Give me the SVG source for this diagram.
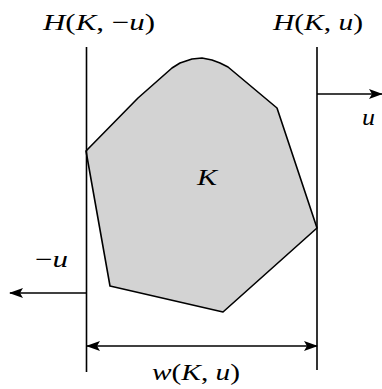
<svg xmlns="http://www.w3.org/2000/svg" width="382" height="389" viewBox="0 0 382 389">
<defs>
<marker id="ah" viewBox="0 0 14 10" refX="13" refY="5" markerWidth="14" markerHeight="10" markerUnits="userSpaceOnUse" orient="auto-start-reverse">
<path d="M0,0 L14,5 L0,10 L3,5 Z" fill="#000"/>
</marker>
</defs>
<rect width="382" height="389" fill="#fff"/>
<g font-family="'Liberation Serif', serif" font-size="23" fill="#000">
<g id="K">
<polygon points="86,151 138,98 172,68 180,63 192,59 202,58 212,60 220,63 228,67 277,108 317,228 223,312 110,286" fill="#d3d3d3" stroke="#000" stroke-width="1.6" stroke-linejoin="round"/>
<text font-style="italic" x="197" y="185" textLength="20" lengthAdjust="spacingAndGlyphs">K</text>
</g>
<g id="H-minus">
<line stroke="#000" stroke-width="1.6" x1="86.5" y1="47" x2="86.5" y2="372"/>
<text x="43" y="30" textLength="112" lengthAdjust="spacingAndGlyphs"><tspan font-style="italic">H</tspan>(<tspan font-style="italic">K</tspan>, −<tspan font-style="italic">u</tspan>)</text>
</g>
<g id="H-plus">
<line stroke="#000" stroke-width="1.6" x1="317" y1="47" x2="317" y2="370"/>
<text x="273" y="30" textLength="90" lengthAdjust="spacingAndGlyphs"><tspan font-style="italic">H</tspan>(<tspan font-style="italic">K</tspan>, <tspan font-style="italic">u</tspan>)</text>
</g>
<g id="connectors" stroke="#000" stroke-width="1.6" fill="none">
<line x1="317" y1="94" x2="382" y2="94" marker-end="url(#ah)"/>
<line x1="86.5" y1="293" x2="10" y2="293" marker-end="url(#ah)"/>
<line x1="87" y1="346" x2="317" y2="346" marker-start="url(#ah)" marker-end="url(#ah)"/>
</g>
<g id="labels">
<text font-style="italic" x="362" y="125" textLength="13" lengthAdjust="spacingAndGlyphs">u</text>
<text x="35" y="267" textLength="33" lengthAdjust="spacingAndGlyphs">−<tspan font-style="italic">u</tspan></text>
<text x="152" y="380" textLength="88" lengthAdjust="spacingAndGlyphs"><tspan font-style="italic">w</tspan>(<tspan font-style="italic">K</tspan>, <tspan font-style="italic">u</tspan>)</text>
</g>
</g>
</svg>
